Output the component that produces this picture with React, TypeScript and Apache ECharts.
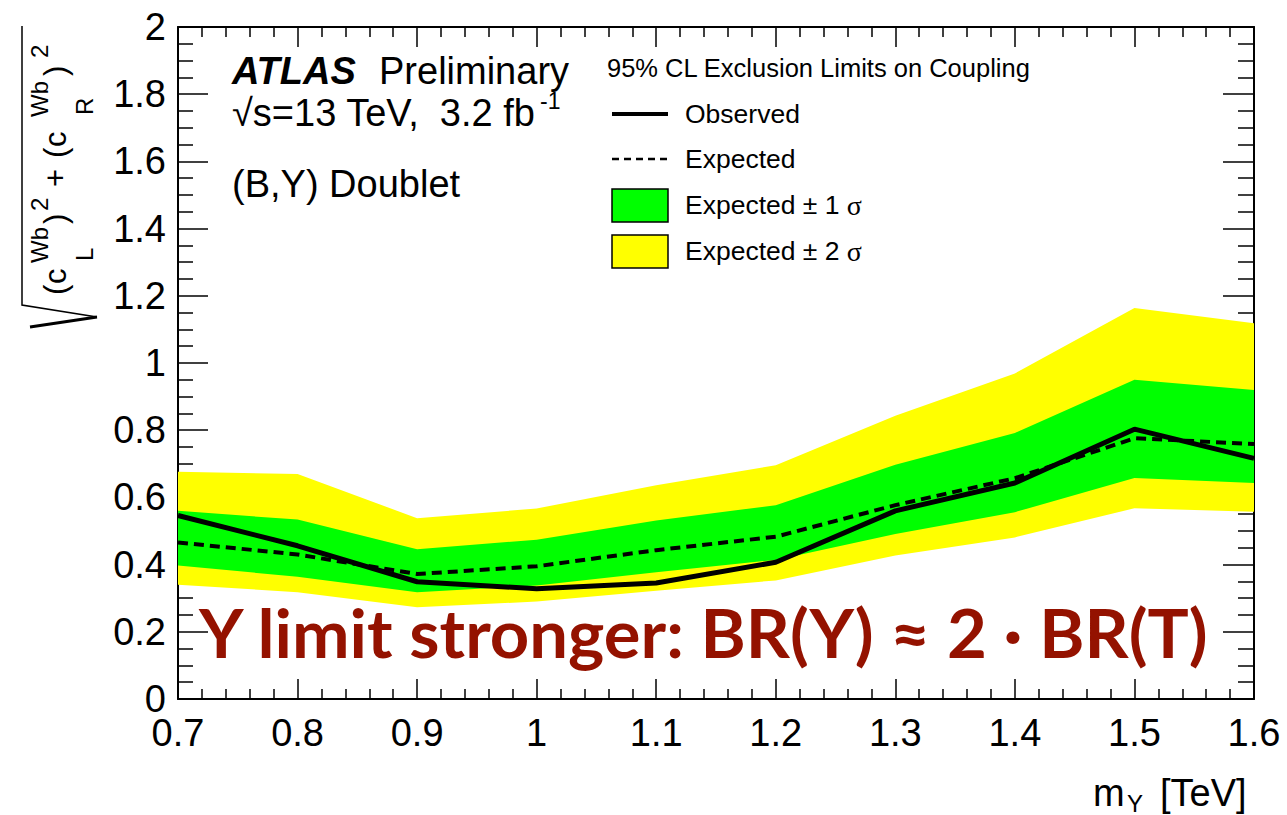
import React, { useEffect, useRef } from "react";
import * as echarts from "echarts";

// ---- data ----
const masses = [0.7, 0.8, 0.9, 1.0, 1.1, 1.2, 1.3, 1.4, 1.5, 1.6];
const observed = [0.546, 0.456, 0.349, 0.328, 0.345, 0.407, 0.56, 0.643, 0.803, 0.716];
const expected = [0.466, 0.43, 0.372, 0.395, 0.443, 0.483, 0.577, 0.657, 0.776, 0.759];
const band1Low = [0.397, 0.364, 0.318, 0.338, 0.377, 0.414, 0.491, 0.556, 0.658, 0.643];
const band1High = [0.56, 0.534, 0.446, 0.474, 0.531, 0.577, 0.697, 0.792, 0.95, 0.92];
const band2Low = [0.34, 0.318, 0.273, 0.29, 0.322, 0.353, 0.427, 0.481, 0.568, 0.557];
const band2High = [0.676, 0.67, 0.538, 0.567, 0.636, 0.696, 0.843, 0.969, 1.164, 1.118];

const xTickLabels = ["0.7", "0.8", "0.9", "1", "1.1", "1.2", "1.3", "1.4", "1.5", "1.6"];
const yTickLabels = ["0", "0.2", "0.4", "0.6", "0.8", "1", "1.2", "1.4", "1.6", "1.8", "2"];

const legendTitle = "95% CL Exclusion Limits on Coupling";
const legendObserved = "Observed";
const legendExpected = "Expected";
const legend1s = "Expected ± 1 ";
const legend2s = "Expected ± 2 ";
const redNote = "Y limit stronger: BR(Y) ≈ 2 · BR(T)";

const SANS = '"Liberation Sans", Arial, Helvetica, sans-serif';
const SERIF = '"Liberation Serif", "Times New Roman", serif';

function txt(text: string, x: number, yCenter: number, size: number, extra: any = {}) {
  return {
    type: "text",
    x,
    y: yCenter,
    silent: true,
    style: {
      text,
      x: 0,
      y: 0,
      fill: "#000",
      fontFamily: SANS,
      fontSize: size,
      lineHeight: Math.round(size * 0.8),
      textAlign: "left",
      textVerticalAlign: "middle",
      ...extra,
    },
  };
}

function bandSeries(name: string, lo: number[], hi: number[], color: string, z: number) {
  return {
    type: "custom",
    name,
    z,
    silent: true,
    data: masses.map((m, i) => [m, lo[i], hi[i]]),
    encode: { x: 0, y: [1, 2] },
    renderItem: (params: any, api: any) => {
      if (params.dataIndex !== 0) return null;
      const pts: number[][] = [];
      for (let i = 0; i < masses.length; i++) pts.push(api.coord([masses[i], hi[i]]));
      for (let i = masses.length - 1; i >= 0; i--) pts.push(api.coord([masses[i], lo[i]]));
      return { type: "polygon", shape: { points: pts }, style: { fill: color, stroke: null } };
    },
  };
}

export default function App() {
  const ref = useRef<HTMLDivElement>(null);

  useEffect(() => {
    if (!ref.current) return;
    const chart = echarts.init(ref.current, null, { renderer: "svg" });

    // red note horizontal scaling to match reference width
    const redSize = 66;
    let redScale = 1;
    try {
      const c = document.createElement("canvas").getContext("2d");
      if (c) {
        c.font = `bold ${redSize}px Lato`;
        const w = c.measureText(redNote).width;
        if (w > 0) redScale = 1012 / w;
      }
    } catch (e) {}

    const xFmt = (v: number) => {
      const i = Math.round((v - 0.7) / 0.1);
      return xTickLabels[i] ?? "";
    };
    const yFmt = (v: number) => {
      const i = Math.round(v / 0.2);
      return yTickLabels[i] ?? "";
    };

    const tickStyle = { color: "#000", width: 1.5 };
    const axisLine = { show: true, onZero: false, lineStyle: { color: "#000", width: 2 } };

    // y-axis title pieces (local coordinates of rotated group, baseline at local y = 0)
    const mainF = 31;
    const supF = 24;
    const mc = -0.35 * mainF;
    const supC = -18 - 0.35 * supF;
    const subC = 27 - 0.35 * supF;
    const yTitle = {
      type: "group",
      x: 66,
      y: 298,
      rotation: Math.PI / 2,
      silent: true,
      children: [
        txt("(", 3, mc, mainF),
        txt("c", 14, mc, mainF),
        txt("L", 37, subC, supF),
        txt("Wb", 35, supC, supF),
        txt(")", 74, mc, mainF),
        txt("2", 87, supC, supF),
        txt("+", 111, mc, mainF),
        txt("(", 140, mc, mainF),
        txt("c", 151, mc, mainF),
        txt("R", 183, subC, supF),
        txt("Wb", 181, supC, supF),
        txt(")", 222, mc, mainF),
        txt("2", 240, supC, supF),
      ],
    };

    const option: any = {
      animation: false,
      backgroundColor: "#fff",
      grid: { left: 178, right: 33, top: 27, bottom: 116, containLabel: false },
      xAxis: [
        {
          type: "value",
          min: 0.7,
          max: 1.6,
          interval: 0.1,
          position: "bottom",
          axisLine,
          axisTick: { show: true, inside: true, length: 20, lineStyle: tickStyle },
          minorTick: { show: true, splitNumber: 5, length: 10, lineStyle: tickStyle },
          splitLine: { show: false },
          minorSplitLine: { show: false },
          axisLabel: { margin: 19, fontSize: 38, lineHeight: 30, fontFamily: SANS, color: "#000", formatter: xFmt },
        },
        {
          type: "value",
          min: 0.7,
          max: 1.6,
          interval: 0.1,
          position: "top",
          axisLine,
          axisTick: { show: true, inside: true, length: 20, lineStyle: tickStyle },
          minorTick: { show: true, splitNumber: 5, length: 10, lineStyle: tickStyle },
          splitLine: { show: false },
          axisLabel: { show: false },
        },
      ],
      yAxis: [
        {
          type: "value",
          min: 0,
          max: 2,
          interval: 0.2,
          position: "left",
          axisLine,
          axisTick: { show: true, inside: true, length: 30, lineStyle: tickStyle },
          minorTick: { show: true, splitNumber: 4, length: 15, lineStyle: tickStyle },
          splitLine: { show: false },
          minorSplitLine: { show: false },
          axisLabel: { margin: 12, fontSize: 38, lineHeight: 30, fontFamily: SANS, color: "#000", formatter: yFmt },
        },
        {
          type: "value",
          min: 0,
          max: 2,
          interval: 0.2,
          position: "right",
          axisLine,
          axisTick: { show: true, inside: true, length: 31, lineStyle: tickStyle },
          minorTick: { show: true, splitNumber: 4, length: 16, lineStyle: tickStyle },
          splitLine: { show: false },
          axisLabel: { show: false },
        },
      ],
      series: [
        bandSeries("Expected ± 2 σ", band2Low, band2High, "#ffff00", 1),
        bandSeries("Expected ± 1 σ", band1Low, band1High, "#00ff00", 2),
        {
          type: "line",
          name: "Expected",
          z: 3,
          symbol: "none",
          silent: true,
          data: masses.map((m, i) => [m, expected[i]]),
          lineStyle: { color: "#000", width: 4, type: [10, 6] },
        },
        {
          type: "line",
          name: "Observed",
          z: 4,
          symbol: "none",
          silent: true,
          data: masses.map((m, i) => [m, observed[i]]),
          lineStyle: { color: "#000", width: 5 },
        },
      ],
      graphic: [
        // ATLAS label
        txt("ATLAS", 232, 71, 38, { fontWeight: "bold", fontStyle: "italic" }),
        txt("Preliminary", 379, 71, 38),
        txt("√s=13 TeV,  3.2 fb", 232, 113, 38),
        txt("-1", 540, 101, 23, { lineHeight: 17 }),
        txt("(B,Y) Doublet", 232, 184, 38),
        // legend
        txt(legendTitle, 607, 68, 25.5),
        { type: "line", silent: true, shape: { x1: 612, y1: 114, x2: 668, y2: 114 }, style: { stroke: "#000", lineWidth: 4 } },
        txt(legendObserved, 685, 114, 26.5),
        { type: "line", silent: true, shape: { x1: 612, y1: 159, x2: 668, y2: 159 }, style: { stroke: "#000", lineWidth: 2.5, lineDash: [7, 5] } },
        txt(legendExpected, 685, 159, 26.5),
        { type: "rect", silent: true, shape: { x: 612, y: 189, width: 56, height: 33 }, style: { fill: "#00ff00", stroke: "#000", lineWidth: 1.5 } },
        {
          type: "text",
          x: 685,
          y: 205,
          silent: true,
          style: {
            text: `{a|${legend1s}}{b|σ}`,
            textVerticalAlign: "middle",
            rich: {
              a: { fontFamily: SANS, fontSize: 26.5, fill: "#000" },
              b: { fontFamily: SERIF, fontSize: 28, fill: "#000" },
            },
          },
        },
        { type: "rect", silent: true, shape: { x: 612, y: 235, width: 56, height: 33 }, style: { fill: "#ffff00", stroke: "#000", lineWidth: 1.5 } },
        {
          type: "text",
          x: 685,
          y: 251,
          silent: true,
          style: {
            text: `{a|${legend2s}}{b|σ}`,
            textVerticalAlign: "middle",
            rich: {
              a: { fontFamily: SANS, fontSize: 26.5, fill: "#000" },
              b: { fontFamily: SERIF, fontSize: 28, fill: "#000" },
            },
          },
        },
        // x-axis title
        txt("m", 1093, 793, 38),
        txt("Y", 1127, 803, 24, { lineHeight: 18 }),
        txt("[TeV]", 1160, 793, 38),
        // y-axis title with radical
        { type: "polyline", silent: true, shape: { points: [[22, 26], [22, 305], [97, 317]] }, style: { stroke: "#000", lineWidth: 1.5, fill: null } },
        { type: "line", silent: true, shape: { x1: 30, y1: 327, x2: 97, y2: 317 }, style: { stroke: "#000", lineWidth: 3 } },
        yTitle,
        // red annotation
        {
          type: "text",
          x: 199,
          y: 632,
          scaleX: redScale,
          silent: true,
          z: 100,
          style: {
            text: redNote,
            x: 0,
            y: 0,
            fill: "#941200",
            fontFamily: "Lato",
            fontWeight: "bold",
            fontSize: redSize,
            lineHeight: 56,
            textAlign: "left",
            textVerticalAlign: "middle",
          },
        },
      ],
    };

    chart.setOption(option);
    return () => chart.dispose();
  }, []);

  return (
    <div
      ref={ref}
      style={{ position: "fixed", left: 0, top: 0, width: 1287, height: 815, background: "#fff" }}
    />
  );
}
